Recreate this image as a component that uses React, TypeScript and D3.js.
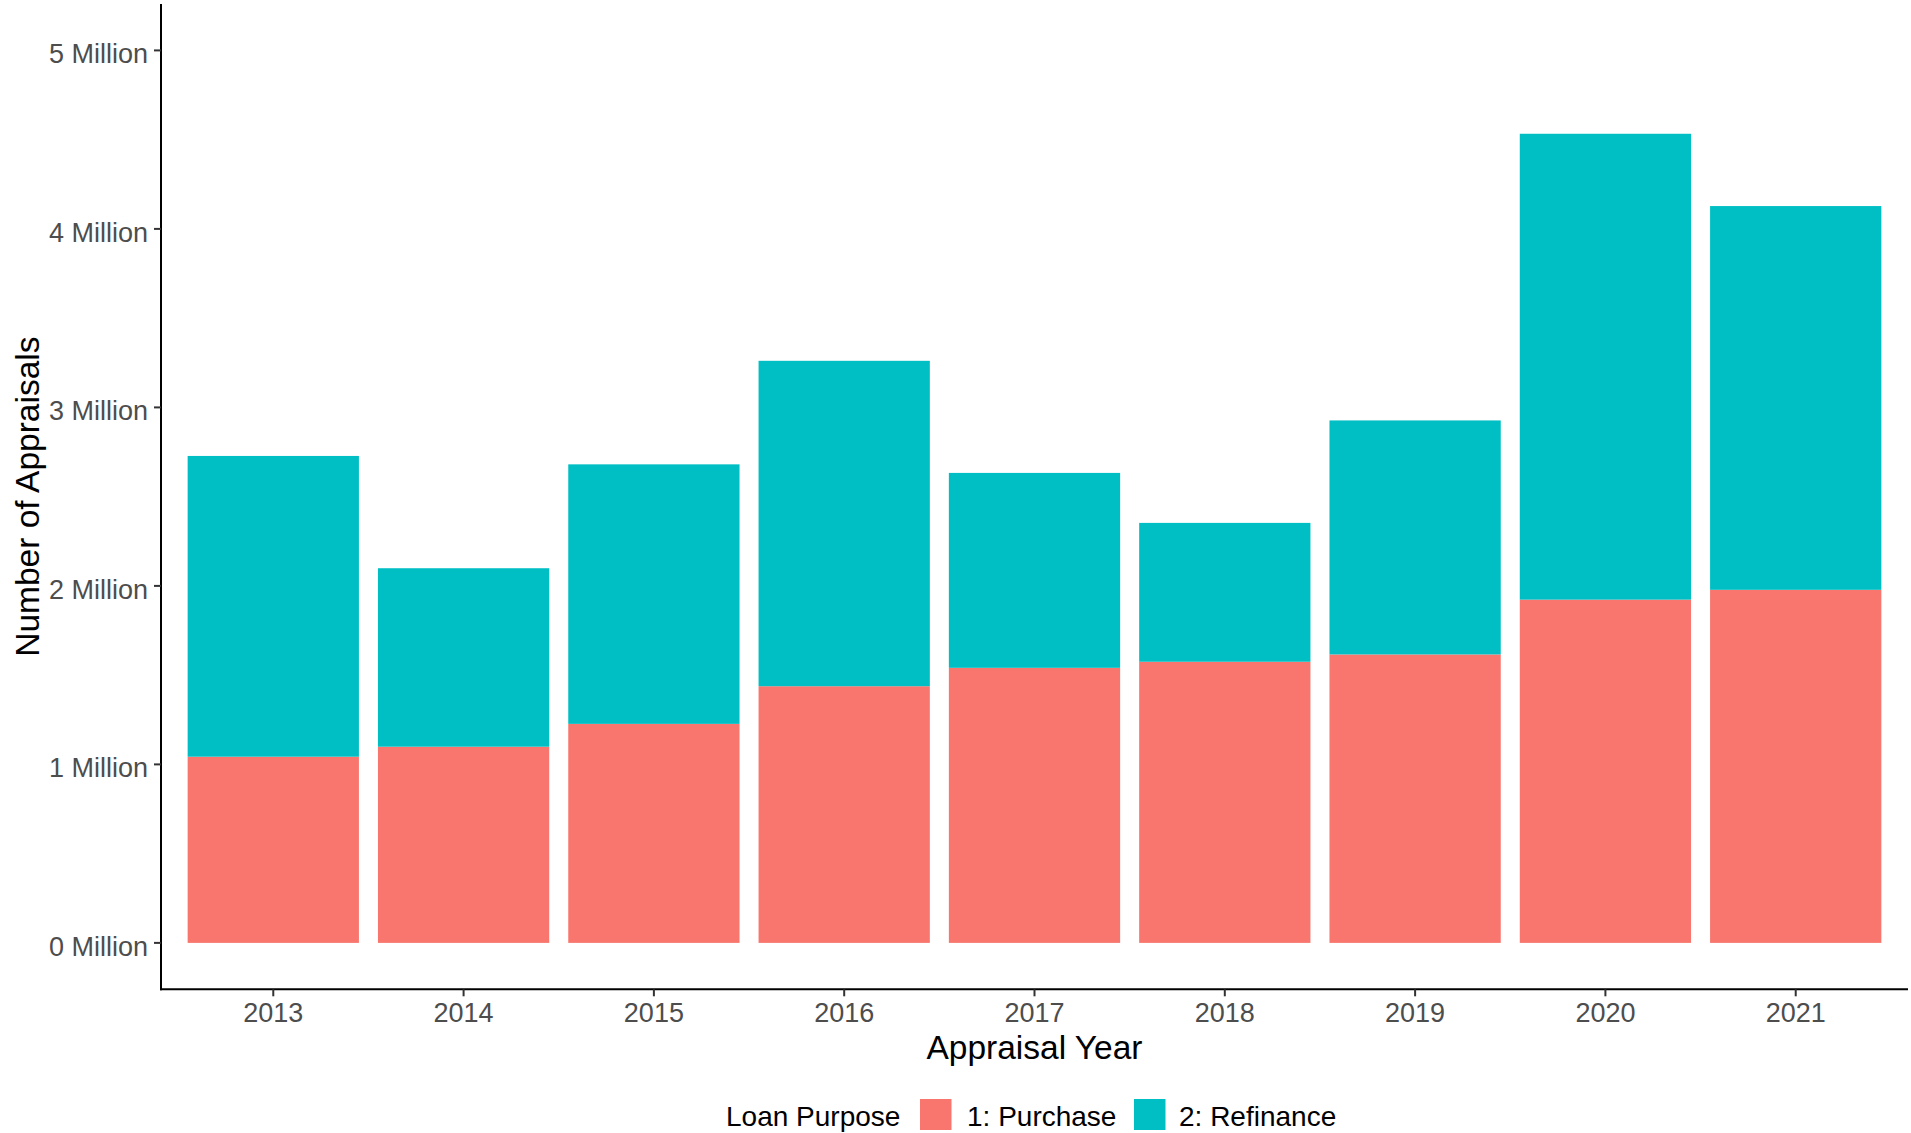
import React from "react";
import * as d3 from "d3";

const years = ["2013", "2014", "2015", "2016", "2017", "2018", "2019", "2020", "2021"];
const purchase = [1.043, 1.099, 1.227, 1.438, 1.541, 1.575, 1.616, 1.923, 1.978];
const refinance = [1.685, 1.0, 1.454, 1.823, 1.092, 0.778, 1.311, 2.61, 2.15];
const yTicks = [0, 1, 2, 3, 4, 5];
const seriesNames = ["1: Purchase", "2: Refinance"];
const seriesColors = ["#F8766D", "#00BFC4"];

const W = 1911;
const H = 1133;
const FONT = "'Liberation Sans', Arial, sans-serif";

export default function App() {
  const left = 161;
  const right = 1908;
  const top = 4;
  const bottom = 989.3;

  const x = d3.scaleBand<string>().domain(years).range([left, right]).paddingInner(0.1).paddingOuter(0.14);
  const y = d3.scaleLinear().domain([-0.26, 5.26]).range([bottom, top]);

  const rows = years.map((yr, i) => ({ year: yr, p: purchase[i], r: refinance[i] }));
  const stack = d3.stack<any>().keys(["p", "r"])(rows);

  return (
    <svg width={W} height={H} style={{ position: "absolute", left: 0, top: 0, background: "#fff" }} fontFamily={FONT}>
      <rect x={0} y={0} width={W} height={H} fill="#fff" />
      {stack.map((layer, li) =>
        layer.map((d, i) => (
          <rect
            key={`${li}-${i}`}
            x={x(years[i])}
            width={x.bandwidth()}
            y={y(d[1])}
            height={y(d[0]) - y(d[1])}
            fill={seriesColors[li]}
          />
        ))
      )}
      {/* axes */}
      <line x1={left} x2={left} y1={top} y2={bottom + 1} stroke="#000" strokeWidth={2} />
      <line x1={left - 1} x2={right} y1={bottom} y2={bottom} stroke="#000" strokeWidth={2} />
      {yTicks.map((t) => (
        <g key={t}>
          <line x1={left - 7} x2={left} y1={y(t)} y2={y(t)} stroke="#333" strokeWidth={2} />
          <text x={148} y={y(t)} dy="0.47em" textAnchor="end" fontSize={27} fill="#4D4D4D">
            {`${t} Million`}
          </text>
        </g>
      ))}
      {years.map((yr) => {
        const cx = (x(yr) as number) + x.bandwidth() / 2;
        return (
          <g key={yr}>
            <line x1={cx} x2={cx} y1={bottom} y2={bottom + 7} stroke="#333" strokeWidth={2} />
            <text x={cx} y={1022} textAnchor="middle" fontSize={27} fill="#4D4D4D">
              {yr}
            </text>
          </g>
        );
      })}
      <text x={(left + right) / 2} y={1059} textAnchor="middle" fontSize={33.5} fill="#000">
        Appraisal Year
      </text>
      <text
        transform={`translate(38.5, ${(top + bottom) / 2}) rotate(-90)`}
        textAnchor="middle"
        fontSize={33.5}
        fill="#000"
      >
        Number of Appraisals
      </text>
      {/* legend */}
      <text x={726} y={1126} fontSize={28} fill="#000">
        Loan Purpose
      </text>
      <rect x={920} y={1099} width={31.5} height={31} fill={seriesColors[0]} />
      <text x={967} y={1126} fontSize={28} fill="#000">
        {seriesNames[0]}
      </text>
      <rect x={1134} y={1099} width={31.5} height={31} fill={seriesColors[1]} />
      <text x={1179} y={1126} fontSize={28} fill="#000">
        {seriesNames[1]}
      </text>
    </svg>
  );
}
